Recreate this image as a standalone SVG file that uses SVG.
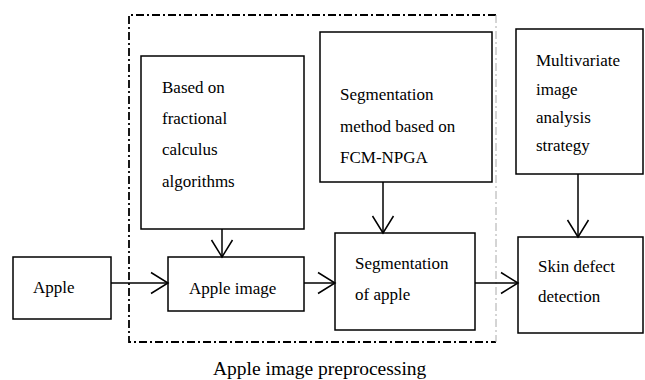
<svg xmlns="http://www.w3.org/2000/svg" width="645" height="380" viewBox="0 0 645 380">
  <style>
    .box { fill: #fff; stroke: #000; stroke-width: 1.5; }
    .lbl { font-family: "Liberation Serif", "Times New Roman", serif; font-size: 17px; fill: #000; }
    .cap { font-family: "Liberation Serif", "Times New Roman", serif; font-size: 19.5px; fill: #000; }
    .edge { fill: none; stroke: #000; stroke-width: 1.5; }
    .frame { fill: none; stroke: #000; stroke-width: 1.8; stroke-dasharray: 8 3 2 3; }
    .frame-r { fill: none; stroke: #aaa; stroke-width: 1; stroke-dasharray: 8 3 2 3; }
  </style>
  <defs>
    <marker id="arrow" viewBox="-18 -12 20 24" refX="0" refY="0" markerWidth="20" markerHeight="24" markerUnits="userSpaceOnUse" orient="auto">
      <path d="M-17,-10.5 L0,0 L-17,10.5" fill="none" stroke="#000" stroke-width="1.5"/>
    </marker>
  </defs>
  <rect width="645" height="380" fill="#fff"/>

  <!-- preprocessing frame -->
  <g id="preprocessing">
    <path class="frame" d="M496,15 H129 V342 H496"/>
    <path class="frame-r" d="M496,15 V342"/>
    <text class="cap" x="213" y="375">Apple image preprocessing</text>
  </g>

  <g id="apple">
    <rect class="box" x="13" y="257" width="98" height="62"/>
    <text class="lbl" x="33" y="293">Apple</text>
  </g>

  <g id="fractional">
    <rect class="box" x="141" y="56" width="163" height="173"/>
    <text class="lbl" x="162" y="93">Based on</text>
    <text class="lbl" x="162" y="124">fractional</text>
    <text class="lbl" x="162" y="155">calculus</text>
    <text class="lbl" x="162" y="187">algorithms</text>
  </g>

  <g id="apple-image">
    <rect class="box" x="168" y="257" width="136" height="54"/>
    <text class="lbl" x="189" y="294">Apple image</text>
  </g>

  <g id="fcm-npga">
    <rect class="box" x="320" y="32" width="172" height="150"/>
    <text class="lbl" x="340" y="100">Segmentation</text>
    <text class="lbl" x="340" y="132">method based on</text>
    <text class="lbl" x="340" y="163">FCM-NPGA</text>
  </g>

  <g id="segmentation">
    <rect class="box" x="335" y="233" width="140" height="97"/>
    <text class="lbl" x="355" y="269">Segmentation</text>
    <text class="lbl" x="355" y="300">of apple</text>
  </g>

  <g id="multivariate">
    <rect class="box" x="516" y="29" width="127" height="145"/>
    <text class="lbl" x="536" y="66">Multivariate</text>
    <text class="lbl" x="536" y="95">image</text>
    <text class="lbl" x="536" y="123">analysis</text>
    <text class="lbl" x="536" y="151">strategy</text>
  </g>

  <g id="skin-defect">
    <rect class="box" x="518" y="237" width="125" height="96"/>
    <text class="lbl" x="538" y="272">Skin defect</text>
    <text class="lbl" x="538" y="302">detection</text>
  </g>

  <g id="connectors">
    <path class="edge" d="M111,283 H168" marker-end="url(#arrow)"/>
    <path class="edge" d="M222,229 V257" marker-end="url(#arrow)"/>
    <path class="edge" d="M304,283 H335" marker-end="url(#arrow)"/>
    <path class="edge" d="M383,182 V233" marker-end="url(#arrow)"/>
    <path class="edge" d="M475,283 H518" marker-end="url(#arrow)"/>
    <path class="edge" d="M578,174 V237" marker-end="url(#arrow)"/>
  </g>
</svg>
